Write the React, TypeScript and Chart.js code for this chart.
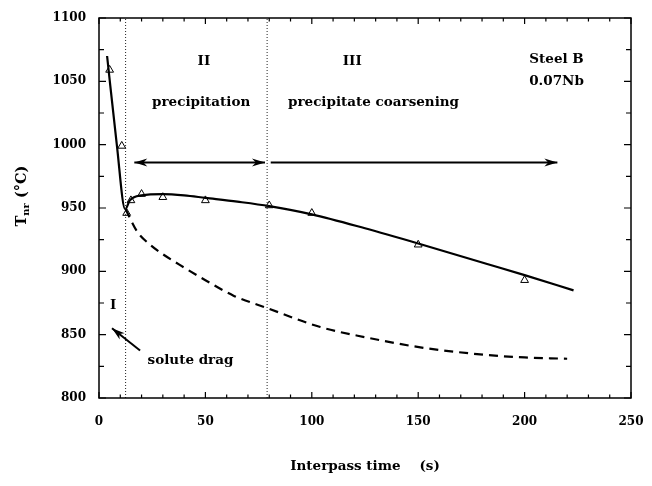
import { useEffect, useRef } from "react";
import { Chart, registerables } from "chart.js";
Chart.register(...registerables);

// measured points (triangles)
const measuredTime = [5, 10.7, 13, 15, 20, 30, 50, 80, 100, 150, 200];
const measuredTnr = [1059, 999, 946, 956, 961, 958.5, 956, 952, 946, 921, 893];

// fitted solid curve
const fitTime = [3.8, 8.3, 12.3, 14.5, 20, 30, 40, 50, 65, 80, 100, 125, 150, 182, 200, 223];
const fitTnr = [1070, 1001, 949, 956, 960, 961, 960, 958, 955, 951.5, 945, 934, 922, 906, 897, 885];

// solute-drag (dashed) curve
const dragTime = [12.5, 17.7, 24, 28.7, 40, 50, 63, 79, 104, 125, 151, 182, 200, 220];
const dragTnr = [949, 932, 921, 915, 903, 893, 881, 871, 856, 848, 840, 834, 832, 831];

// region boundaries
const boundaryTimes = [12.5, 79];

// tick labels
const xTickLabels = [0, 50, 100, 150, 200, 250];
const yTickLabels = [800, 850, 900, 950, 1000, 1050, 1100];

// annotations (data coordinates)
const labelTexts = ["II", "precipitation", "III", "precipitate coarsening", "Steel B", "0.07Nb", "I", "solute drag"];
const labelTimes = [49.3, 48, 119, 129, 215, 215, 6.6, 43];
const labelTnrs = [1066, 1033, 1066, 1033, 1067, 1050, 873, 830];

const arrowStartTimes = [16.6, 80.7, 19.3];
const arrowEndTimes = [78, 215.4, 6.1];
const arrowStartTnrs = [986, 986, 837.5];
const arrowEndTnrs = [986, 986, 855];
const arrowDoubleHead = [true, false, false];

const FONT = "'DejaVu Serif', serif";

const decorPlugin = {
  id: "decor",
  afterDatasetsDraw(chart: any) {
    const { ctx, chartArea } = chart;
    const xs = chart.scales.x;
    const ys = chart.scales.y;
    const { left, right, top, bottom } = chartArea;
    ctx.save();
    // frame
    ctx.strokeStyle = "#000";
    ctx.lineWidth = 1.5;
    ctx.strokeRect(left, top, right - left, bottom - top);
    // inward ticks
    ctx.lineWidth = 1.2;
    ctx.beginPath();
    for (const t of xs.ticks) {
      const px = xs.getPixelForValue(t.value);
      const len = t.value % 50 === 0 ? 6 : 3.5;
      ctx.moveTo(px, bottom);
      ctx.lineTo(px, bottom - len);
      ctx.moveTo(px, top);
      ctx.lineTo(px, top + len);
    }
    for (const t of ys.ticks) {
      const py = ys.getPixelForValue(t.value);
      const len = t.value % 50 === 0 ? 7 : 5;
      ctx.moveTo(left, py);
      ctx.lineTo(left + len, py);
      ctx.moveTo(right, py);
      ctx.lineTo(right - len, py);
    }
    ctx.stroke();

    // arrows
    ctx.fillStyle = "#000";
    const head = (x1: number, y1: number, x2: number, y2: number) => {
      const a = Math.atan2(y2 - y1, x2 - x1);
      const L = 13, W = 4;
      ctx.beginPath();
      ctx.moveTo(x2, y2);
      ctx.lineTo(x2 - L * Math.cos(a) + W * Math.sin(a), y2 - L * Math.sin(a) - W * Math.cos(a));
      ctx.lineTo(x2 - L * 0.7 * Math.cos(a), y2 - L * 0.7 * Math.sin(a));
      ctx.lineTo(x2 - L * Math.cos(a) - W * Math.sin(a), y2 - L * Math.sin(a) + W * Math.cos(a));
      ctx.closePath();
      ctx.fill();
    };
    for (let i = 0; i < arrowStartTimes.length; i++) {
      const x1 = xs.getPixelForValue(arrowStartTimes[i]);
      const x2 = xs.getPixelForValue(arrowEndTimes[i]);
      const y1 = ys.getPixelForValue(arrowStartTnrs[i]);
      const y2 = ys.getPixelForValue(arrowEndTnrs[i]);
      ctx.lineWidth = 2;
      ctx.beginPath();
      ctx.moveTo(x1, y1);
      ctx.lineTo(x2, y2);
      ctx.stroke();
      head(x1, y1, x2, y2);
      if (arrowDoubleHead[i]) head(x2, y2, x1, y1);
    }

    // text labels
    ctx.textAlign = "center";
    ctx.textBaseline = "middle";
    ctx.font = `bold 13.5px ${FONT}`;
    for (let i = 0; i < labelTexts.length; i++) {
      ctx.fillText(labelTexts[i], xs.getPixelForValue(labelTimes[i]), ys.getPixelForValue(labelTnrs[i]));
    }

    // y-axis title with subscript
    ctx.translate(21, 196);
    ctx.rotate(-Math.PI / 2);
    ctx.textAlign = "left";
    ctx.textBaseline = "alphabetic";
    const big = `bold 14.5px ${FONT}`;
    const small = `bold 10px ${FONT}`;
    ctx.font = big;
    const wT = ctx.measureText("T").width;
    ctx.font = small;
    const wNr = ctx.measureText("nr").width;
    ctx.font = big;
    const wRest = ctx.measureText(" (°C)").width;
    const total = wT + wNr + wRest;
    let x0 = -total / 2;
    ctx.font = big;
    ctx.fillText("T", x0, 5);
    x0 += wT;
    ctx.font = small;
    ctx.fillText("nr", x0, 8);
    x0 += wNr;
    ctx.font = big;
    ctx.fillText(" (°C)", x0, 5);
    ctx.restore();
  },
};

export default function App() {
  const ref = useRef<HTMLCanvasElement>(null);
  useEffect(() => {
    if (!ref.current) return;
    const pts = (xs: number[], ys: number[]) => xs.map((x, i) => ({ x, y: ys[i] }));
    const boundaryDatasets = boundaryTimes.map((t) => ({
      data: [
        { x: t, y: 800 },
        { x: t, y: 1100 },
      ],
      showLine: true,
      borderColor: "#222",
      borderWidth: 1,
      borderDash: [1, 2],
      pointRadius: 0,
    }));
    const chart = new Chart(ref.current, {
      type: "scatter",
      data: {
        datasets: [
          ...boundaryDatasets,
          {
            data: pts(fitTime, fitTnr),
            showLine: true,
            borderColor: "#000",
            borderWidth: 2.2,
            pointRadius: 0,
            cubicInterpolationMode: "monotone",
          },
          {
            data: pts(dragTime, dragTnr),
            showLine: true,
            borderColor: "#000",
            borderWidth: 2.2,
            borderDash: [9, 6],
            pointRadius: 0,
            cubicInterpolationMode: "monotone",
          },
          {
            data: pts(measuredTime, measuredTnr),
            showLine: false,
            pointStyle: "triangle",
            pointRadius: 4.5,
            borderColor: "#000",
            borderWidth: 1,
            backgroundColor: "#fff",
          },
        ] as any,
      },
      options: {
        animation: false,
        responsive: false,
        devicePixelRatio: 1,
        layout: { padding: { left: 0, right: 21, top: 18, bottom: 0 } },
        plugins: { legend: { display: false }, tooltip: { enabled: false } },
        scales: {
          x: {
            type: "linear",
            min: 0,
            max: 250,
            grid: { display: true, drawOnChartArea: false, drawTicks: true, tickLength: 16, color: "rgba(0,0,0,0)" },
            border: { display: false },
            ticks: {
              stepSize: 10,
              autoSkip: false,
              maxRotation: 0,
              padding: 1,
              color: "#000",
              font: { family: FONT, size: 12, weight: "bold" },
              callback: (v: any) => (xTickLabels.includes(Number(v)) ? String(v) : ""),
            },
            title: {
              display: true,
              text: "Interpass time    (s)",
              color: "#000",
              font: { family: FONT, size: 13.5, weight: "bold" },
              padding: { top: 0, bottom: 11 },
            },
            afterFit: (s: any) => {
              s.height = 88;
            },
          },
          y: {
            type: "linear",
            min: 800,
            max: 1100,
            grid: { display: true, drawOnChartArea: false, drawTicks: true, tickLength: 12, color: "rgba(0,0,0,0)" },
            border: { display: false },
            ticks: {
              stepSize: 25,
              autoSkip: false,
              padding: 1,
              color: "#000",
              font: { family: FONT, size: 12, weight: "bold" },
              callback: (v: any) => (yTickLabels.includes(Number(v)) ? String(v) : ""),
            },
            afterFit: (s: any) => {
              s.width = 99;
            },
          },
        },
      },
      plugins: [decorPlugin],
    });
    return () => chart.destroy();
  }, []);
  return (
    <div style={{ position: "absolute", left: 0, top: 0, width: 652, height: 486, background: "#fff" }}>
      <canvas ref={ref} width={652} height={486} />
    </div>
  );
}
